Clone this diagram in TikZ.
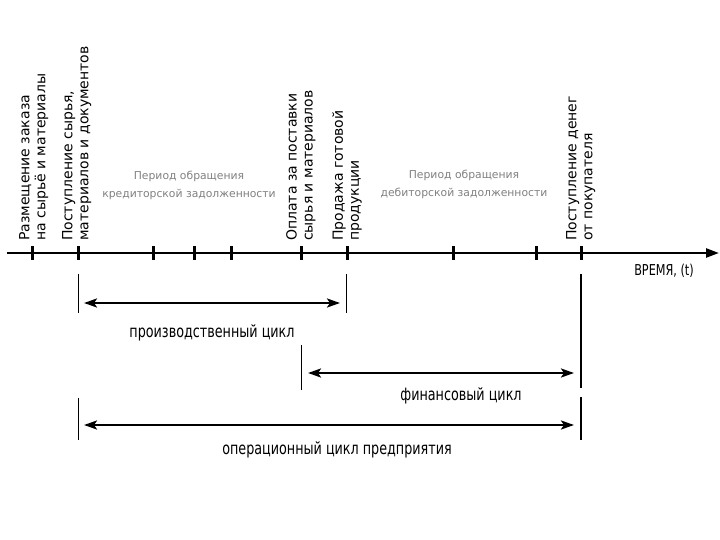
\documentclass[tikz,border=0pt]{standalone}
\usepackage{fontspec}
\setmainfont{DejaVu Sans}
\newfontfamily\condfont{DejaVu Sans}[FakeStretch=0.75]
\usetikzlibrary{arrows.meta,calc}
\tikzset{
  axisline/.style={line width=2.4pt,-{Triangle[length=13pt,width=9pt]}},
  tickmark/.style={line width=3pt},
  guide/.style={line width=0.9pt},
  cyc/.style={line width=2.4pt,{Stealth[length=13pt,width=9pt,inset=3pt]}-{Stealth[length=13pt,width=9pt,inset=3pt]}},
  vlab/.style={rotate=90,anchor=north west,inner sep=0pt,align=left,font=\fontsize{14}{16}\selectfont},
  glab/.style={align=center,inner sep=0pt,text=black!50,font=\fontsize{10.8}{18}\selectfont},
  clab/.style={anchor=base,inner sep=0pt,font=\condfont\fontsize{17}{20}\selectfont},
}
\begin{document}
\begin{tikzpicture}[x=1pt,y=-1pt]
\useasboundingbox (0,0) rectangle (720,540);
% axis
\coordinate (axs) at (7,253);
\coordinate (axe) at (719,253);
\draw[axisline] (axs) -- (axe);
\foreach \n/\x in {t1/32,t2/78,t3/153,t4/194,t5/231,t6/301,t7/347,t8/453,t9/536,t10/581}{
  \coordinate (\n) at (\x,253);
  \draw[tickmark] ($(\n)+(0,-7)$) -- ($(\n)+(0,7)$);
}
\node[anchor=base,inner sep=0pt,font=\condfont\fontsize{15}{17}\selectfont] (time) at (664,275) {ВРЕМЯ, (t)};
% vertical labels
\node[vlab] (l1) at (19,241) {Размещение заказа\\на сырьё и материалы};
\node[vlab] (l2) at (62,241) {Поступление сырья,\\материалов и документов};
\node[vlab] (l3) at (286,241) {Оплата за поставки\\сырья и материалов};
\node[vlab] (l4) at (332,241) {Продажа готовой\\продукции};
\node[vlab] (l5) at (566,241) {Поступление денег\\от покупателя};
% gray labels
\node[glab] (kred) at (189,185) {Период обращения\\кредиторской задолженности};
\node[glab] (deb) at (464,184) {Период обращения\\дебиторской задолженности};
% guide lines
\coordinate (g1a) at (78,274); \coordinate (g1b) at (78,313);
\coordinate (g2a) at (346,274); \coordinate (g2b) at (346,313);
\coordinate (g3a) at (301,345); \coordinate (g3b) at (301,390);
\coordinate (g4a) at (581,274); \coordinate (g4b) at (581,388);
\coordinate (g5a) at (78,398); \coordinate (g5b) at (78,440);
\coordinate (g6a) at (581,397); \coordinate (g6b) at (581,440);
\draw[guide] (g1a) -- (g1b);
\draw[guide] (g2a) -- (g2b);
\draw[guide] (g3a) -- (g3b);
\draw[line width=1.4pt] (g4a) -- (g4b);
\draw[guide] (g5a) -- (g5b);
\draw[line width=1.4pt] (g6a) -- (g6b);
% cycle arrows
\coordinate (p1) at (84,303); \coordinate (p2) at (340,303);
\coordinate (f1) at (308,373); \coordinate (f2) at (574,373);
\coordinate (o1) at (84,425); \coordinate (o2) at (574,425);
\draw[cyc] (p1) -- (p2);
\draw[cyc] (f1) -- (f2);
\draw[cyc] (o1) -- (o2);
\node[clab] (prod) at (212,337) {производственный цикл};
\node[clab] (fin) at (461,400) {финансовый цикл};
\node[clab] (oper) at (337,454) {операционный цикл предприятия};
\end{tikzpicture}
\end{document}
